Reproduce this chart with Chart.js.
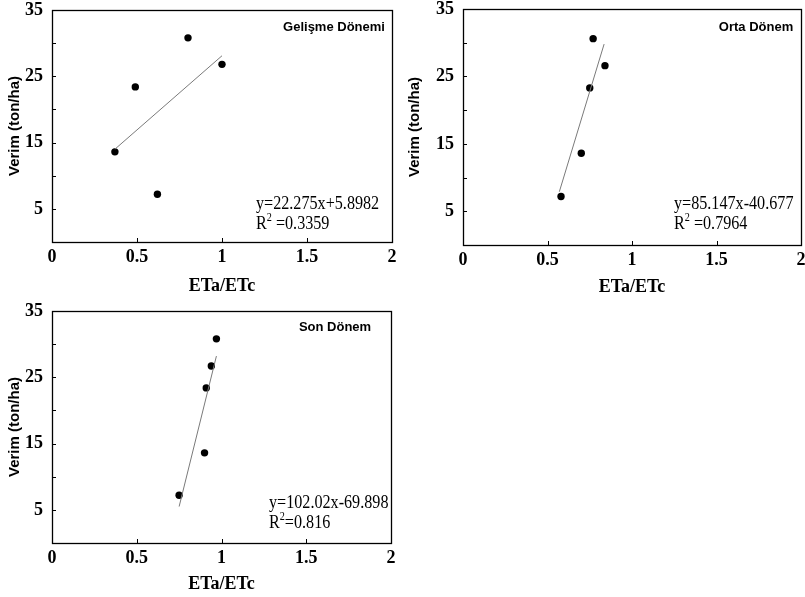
<!DOCTYPE html>
<html>
<head>
<meta charset="utf-8">
<script src="https://cdn.jsdelivr.net/npm/chart.js@4.4.1/dist/chart.umd.min.js"></script>
<style>
body { margin: 0; background: #fff; width: 805px; height: 597px; position: relative; overflow: hidden; }
.panel { position: absolute; }
</style>
</head>
<body>
<div class="panel" style="left:0;top:0;width:400px;height:297px"><canvas id="c1"></canvas></div>
<div class="panel" style="left:400px;top:0;width:405px;height:298px"><canvas id="c2"></canvas></div>
<div class="panel" style="left:0;top:297px;width:400px;height:300px"><canvas id="c3"></canvas></div>
<script>
// ==================== Data ====================
const xTicks = [0, 0.5, 1, 1.5, 2];
const yLabels = [5, 15, 25, 35];

// Gelisme Donemi
const etaEtc1 = [0.37, 0.49, 0.62, 0.80, 1.00];
const verim1 = [13.6, 23.4, 7.2, 30.8, 26.8];
const trendX1 = [0.37, 1.00];
const trendY1 = [14.0, 28.1];

// Orta Donem
const etaEtc2 = [0.77, 0.84, 0.75, 0.70, 0.58];
const verim2 = [30.6, 26.6, 23.3, 13.6, 7.2];
const trendX2 = [0.57, 0.835];
const trendY2 = [7.9, 29.8];

// Son Donem
const etaEtc3 = [0.97, 0.94, 0.91, 0.90, 0.75];
const verim3 = [30.8, 26.7, 23.4, 13.6, 7.2];
const trendX3 = [0.75, 0.97];
const trendY3 = [5.5, 28.2];

// ==================== Plugin ====================
const framePlugin = {
    id: 'frame',
    afterDraw(chart, args, o) {
        const { ctx, chartArea: a, scales: { x, y } } = chart;
        ctx.save();
        ctx.strokeStyle = '#000';
        ctx.lineWidth = 1.3;
        ctx.strokeRect(Math.round(a.left) + 0.5, Math.round(a.top) + 0.5,
            Math.round(a.width), Math.round(a.height));
        ctx.lineWidth = 1;
        ctx.beginPath();
        x.ticks.forEach(t => {
            if (t.value <= x.min || t.value >= x.max) return;
            const px = Math.round(x.getPixelForValue(t.value)) + 0.5;
            ctx.moveTo(px, a.bottom); ctx.lineTo(px, a.bottom - 4);
        });
        y.ticks.forEach(t => {
            if (t.value <= y.min || t.value >= y.max) return;
            const py = Math.round(y.getPixelForValue(t.value)) + 0.5;
            ctx.moveTo(a.left, py); ctx.lineTo(a.left + 4, py);
        });
        ctx.stroke();

        // period label
        ctx.fillStyle = '#000';
        ctx.font = 'bold 13px "Liberation Sans", Arial, sans-serif';
        ctx.textAlign = 'center';
        ctx.textBaseline = 'middle';
        ctx.fillText(o.title, a.right - o.titleDx, a.top + o.titleDy);

        // equation, squeezed like the original
        const sx = 0.85;
        const serif = '"Liberation Serif", "Times New Roman", serif';
        ctx.font = '19px ' + serif;
        ctx.textAlign = 'left';
        ctx.textBaseline = 'alphabetic';
        ctx.save();
        ctx.translate(a.left + o.eqDx, a.top + o.eqDy);
        ctx.scale(sx, 1);
        ctx.fillText(o.eq, 0, 0);
        ctx.restore();
        ctx.save();
        ctx.translate(a.left + o.eqDx, a.top + o.eqDy + 20);
        ctx.scale(sx, 1);
        ctx.fillText('R', 0, 0);
        let w = ctx.measureText('R').width;
        ctx.font = '12px ' + serif;
        ctx.fillText('2', w, -8);
        w += ctx.measureText('2').width;
        ctx.font = '19px ' + serif;
        ctx.fillText(o.r2, w, 0);
        ctx.restore();
        ctx.restore();
    }
};

// ==================== Charts ====================
function makeChart(id, xs, ys, tx, ty, opts) {
    const pts = xs.map((v, i) => ({ x: v, y: ys[i] }));
    const line = tx.map((v, i) => ({ x: v, y: ty[i] }));
    const tickFont = { family: '"Liberation Serif", serif', size: 18, weight: 'bold' };
    return new Chart(document.getElementById(id), {
        type: 'scatter',
        data: {
            datasets: [
                { data: line, showLine: true, borderColor: '#7a7a7a', borderWidth: 1,
                  pointRadius: 0, fill: false },
                { data: pts, pointRadius: 3.7, pointBackgroundColor: '#000',
                  pointBorderColor: '#000', pointBorderWidth: 0 }
            ]
        },
        options: {
            responsive: true,
            maintainAspectRatio: false,
            animation: false,
            layout: { padding: { top: opts.padTop, right: opts.padRight, left: 0, bottom: 0 } },
            plugins: {
                legend: { display: false },
                tooltip: { enabled: false },
                frame: opts
            },
            scales: {
                x: {
                    type: 'linear', min: 0, max: 2,
                    afterBuildTicks: s => { s.ticks = xTicks.map(v => ({ value: v })); },
                    afterFit: s => { s.height = opts.xH; s.paddingLeft = 0; s.paddingRight = 0; },
                    grid: { display: false, drawTicks: false },
                    border: { display: false },
                    ticks: { color: '#000', padding: 5, maxRotation: 0, font: tickFont,
                             callback: v => String(v) },
                    title: { display: true, text: 'ETa/ETc', color: '#000',
                             padding: { top: 6, bottom: opts.titlePad },
                             font: { family: '"Liberation Serif", serif', size: 18, weight: 'bold' } }
                },
                y: {
                    type: 'linear', min: 0, max: 35,
                    ticks: { stepSize: 5, color: '#000', padding: 9, font: tickFont,
                             callback: v => (yLabels.includes(v) ? String(v) : '') },
                    afterFit: s => { s.width = opts.yW; s.paddingTop = 0; s.paddingBottom = 0; },
                    grid: { display: false, drawTicks: false },
                    border: { display: false },
                    title: { display: true, text: 'Verim (ton/ha)', color: '#000',
                             padding: { top: 6, bottom: 0 },
                             font: { family: '"Liberation Sans", Arial, sans-serif', size: 15, weight: 'bold' } }
                }
            }
        },
        plugins: [framePlugin]
    });
}

makeChart('c1', etaEtc1, verim1, trendX1, trendY1, {
    title: 'Gelişme Dönemi', eq: 'y=22.275x+5.8982', r2: ' =0.3359',
    titleDx: 58, titleDy: 17, eqDx: 204, eqDy: 199,
    padTop: 10, padRight: 8, xH: 55, yW: 52, titlePad: 0
});
makeChart('c2', etaEtc2, verim2, trendX2, trendY2, {
    title: 'Orta Dönem', eq: 'y=85.147x-40.677', r2: ' =0.7964',
    titleDx: 45, titleDy: 18, eqDx: 211, eqDy: 200,
    padTop: 9, padRight: 3, xH: 53, yW: 63, titlePad: 0
});
makeChart('c3', etaEtc3, verim3, trendX3, trendY3, {
    title: 'Son Dönem', eq: 'y=102.02x-69.898', r2: '=0.816',
    titleDx: 56, titleDy: 16, eqDx: 217, eqDy: 197,
    padTop: 14, padRight: 9, xH: 54, yW: 52, titlePad: 2
});
</script>
</body>
</html>
